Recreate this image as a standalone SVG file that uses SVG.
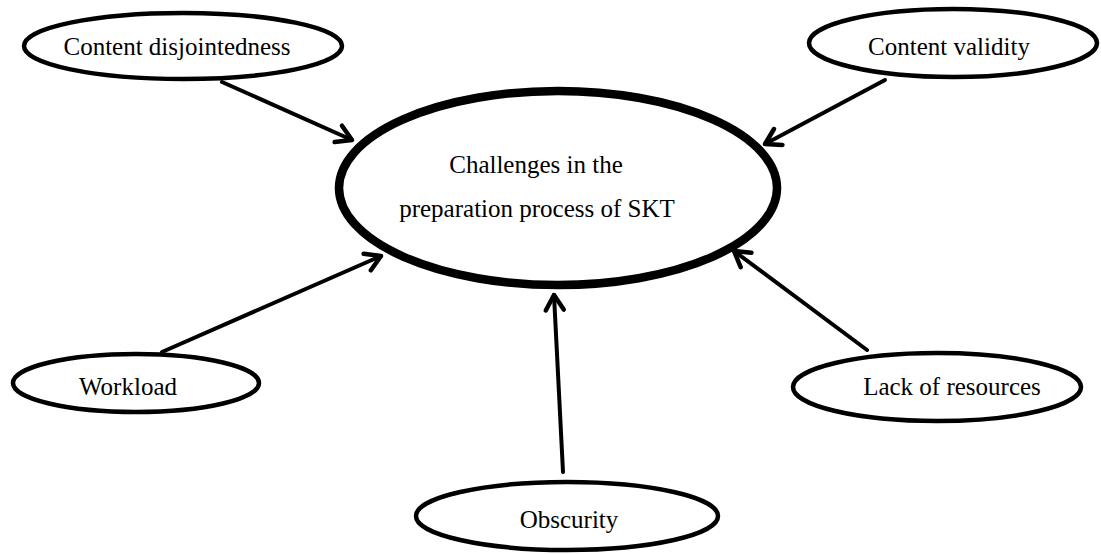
<svg xmlns="http://www.w3.org/2000/svg" width="1101" height="554" viewBox="0 0 1101 554">
<style>
.node ellipse{fill:#fff;stroke:#000;stroke-width:4.5}
.main ellipse{stroke-width:8.5}
.conn line{stroke:#000;stroke-width:4;stroke-linecap:round}
</style>
<defs>
<marker id="arr" markerUnits="userSpaceOnUse" markerWidth="30" markerHeight="30" viewBox="-20 -15 30 30" refX="0" refY="0" orient="auto" overflow="visible">
<path d="M -15 -9 L 0 0 L -15 9" fill="none" stroke="#000" stroke-width="4.5" stroke-linecap="round" stroke-linejoin="round"/>
</marker>
</defs>
<rect width="1101" height="554" fill="#fff"/>
<g class="conn" id="connectors">
<line x1="222" y1="82" x2="352" y2="140" marker-end="url(#arr)"/>
<line x1="885" y1="80" x2="765" y2="144" marker-end="url(#arr)"/>
<line x1="162" y1="352" x2="381" y2="256" marker-end="url(#arr)"/>
<line x1="867" y1="350" x2="734" y2="251" marker-end="url(#arr)"/>
<line x1="563" y1="472" x2="554" y2="295" marker-end="url(#arr)"/>
</g>
<g font-family="'Liberation Serif', 'Times New Roman', 'DejaVu Serif', serif" font-size="25" fill="#000" text-anchor="middle">
<g class="node main" id="center">
<ellipse cx="558" cy="188" rx="219" ry="97"/>
<text x="536" y="173">Challenges in the</text>
<text x="537" y="217">preparation process of SKT</text>
</g>
<g class="node" id="disjointedness">
<ellipse cx="183" cy="46" rx="159" ry="33"/>
<text x="177" y="55">Content disjointedness</text>
</g>
<g class="node" id="validity">
<ellipse cx="953" cy="43" rx="144" ry="34"/>
<text x="949" y="55">Content validity</text>
</g>
<g class="node" id="workload">
<ellipse cx="136" cy="383" rx="123" ry="29"/>
<text x="128" y="395">Workload</text>
</g>
<g class="node" id="resources">
<ellipse cx="937" cy="387" rx="144" ry="34"/>
<text x="952" y="395">Lack of resources</text>
</g>
<g class="node" id="obscurity">
<ellipse cx="567" cy="516" rx="151" ry="34"/>
<text x="569" y="528">Obscurity</text>
</g>
</g>
</svg>
